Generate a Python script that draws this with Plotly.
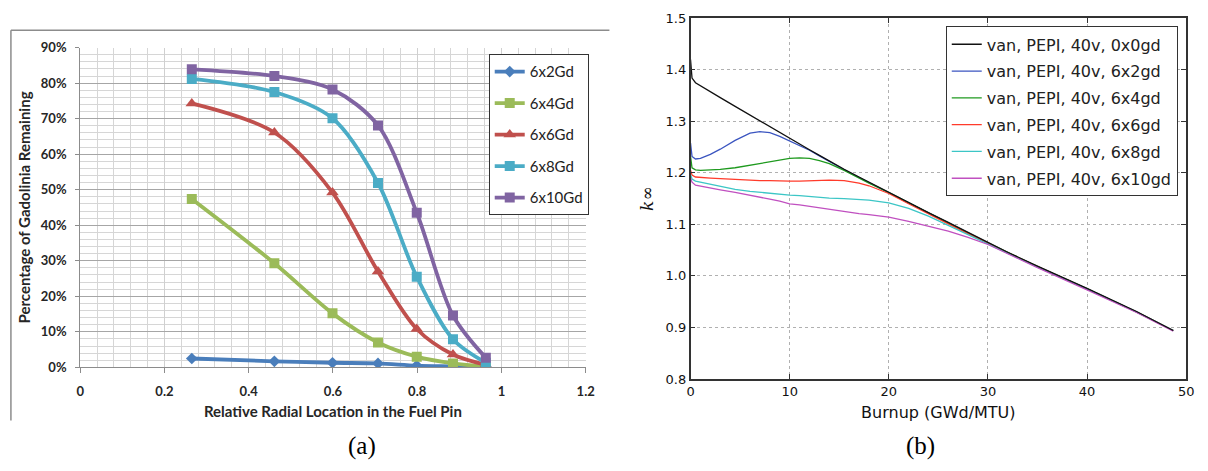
import plotly.graph_objects as go

# ---------------- data: panel (a) ----------------
radial_loc = [0.265, 0.461, 0.599, 0.707, 0.799, 0.885, 0.963]
gd_6x2 = [0.025, 0.017, 0.013, 0.011, 0.005, 0.003, 0.001]
gd_6x4 = [0.474, 0.293, 0.152, 0.070, 0.030, 0.011, 0.002]
gd_6x6 = [0.743, 0.661, 0.492, 0.270, 0.108, 0.036, 0.007]
gd_6x8 = [0.812, 0.775, 0.701, 0.519, 0.255, 0.079, 0.013]
gd_6x10 = [0.839, 0.820, 0.782, 0.681, 0.435, 0.146, 0.027]
a_names = ["6x2Gd", "6x4Gd", "6x6Gd", "6x8Gd", "6x10Gd"]

# ---------------- data: panel (b) ----------------
burnup = [0, 0.15, 0.5, 1, 2, 3, 4.5, 6, 7, 8, 9, 10, 11, 12, 13, 14, 15.5, 17, 18,
          20, 22, 24, 26, 28, 30, 32, 35, 40, 45, 48.7]
k_0x0 = [1.420, 1.384, 1.375, 1.369, 1.357, 1.346, 1.329, 1.312, 1.300, 1.289, 1.278,
         1.267, 1.256, 1.245, 1.234, 1.223, 1.207, 1.192, 1.182, 1.163, 1.143, 1.123,
         1.104, 1.084, 1.065, 1.046, 1.019, 0.976, 0.931, 0.894]
k_6x2 = [1.258, 1.232, 1.227, 1.228, 1.236, 1.246, 1.263, 1.277, 1.280, 1.278, 1.271,
         1.262, 1.254, 1.244, 1.233, 1.222, 1.206, 1.191, 1.181, 1.162, 1.142, 1.122,
         1.103, 1.083, 1.064, 1.045, 1.018, 0.975, 0.930, 0.894]
k_6x4 = [1.232, 1.210, 1.206, 1.205, 1.206, 1.207, 1.210, 1.215, 1.218, 1.222, 1.226,
         1.228, 1.229, 1.228, 1.224, 1.218, 1.205, 1.190, 1.180, 1.162, 1.142, 1.122,
         1.103, 1.083, 1.064, 1.045, 1.018, 0.975, 0.930, 0.894]
k_6x6 = [1.205, 1.196, 1.192, 1.191, 1.190, 1.189, 1.187, 1.186, 1.185, 1.185, 1.184,
         1.184, 1.184, 1.185, 1.186, 1.186, 1.185, 1.180, 1.175, 1.160, 1.140, 1.120,
         1.101, 1.082, 1.063, 1.045, 1.018, 0.975, 0.930, 0.894]
k_6x8 = [1.197, 1.188, 1.184, 1.182, 1.177, 1.173, 1.168, 1.164, 1.162, 1.160, 1.159,
         1.157, 1.156, 1.154, 1.153, 1.151, 1.150, 1.148, 1.147, 1.142, 1.131, 1.116,
         1.098, 1.080, 1.062, 1.044, 1.017, 0.975, 0.930, 0.894]
k_6x10 = [1.190, 1.182, 1.176, 1.174, 1.170, 1.167, 1.162, 1.157, 1.153, 1.149, 1.145,
          1.140, 1.138, 1.135, 1.132, 1.129, 1.125, 1.121, 1.119, 1.114, 1.106, 1.097,
          1.087, 1.075, 1.061, 1.043, 1.016, 0.973, 0.929, 0.893]
b_names = ["van, PEPI, 40v, 0x0gd", "van, PEPI, 40v, 6x2gd", "van, PEPI, 40v, 6x4gd",
           "van, PEPI, 40v, 6x6gd", "van, PEPI, 40v, 6x8gd", "van, PEPI, 40v, 6x10gd"]

W, H = 1208, 471


def fx(x):
    return x / W


def fy(y):
    return 1 - y / H


fig = go.Figure()

# ---- panel (a) traces ----
a_series = [gd_6x2, gd_6x4, gd_6x6, gd_6x8, gd_6x10]
a_colors = ["#4a7ebb", "#9bbb59", "#c0504d", "#4bacc6", "#8064a2"]
a_symbols = ["diamond", "square", "triangle-up", "square", "square"]
a_sizes = [9, 10, 11, 10, 10]
for i, (vals, name) in enumerate(zip(a_series, a_names)):
    fig.add_trace(go.Scatter(
        x=radial_loc, y=vals, name=name, mode="lines+markers",
        line=dict(color=a_colors[i], width=3.8, shape="spline", smoothing=0.9),
        marker=dict(symbol=a_symbols[i], size=a_sizes[i], color=a_colors[i]),
        xaxis="x", yaxis="y", legend="legend", legendgroup="a%d" % i,
    ))

# ---- panel (b) traces ----
b_series = [k_0x0, k_6x2, k_6x4, k_6x6, k_6x8, k_6x10]
b_colors = ["#111111", "#3b55c0", "#1f9a1f", "#ff3b2b", "#3cc6c6", "#c050c0"]
draw_order = [1, 2, 3, 4, 5, 0]
for i in draw_order:
    fig.add_trace(go.Scatter(
        x=burnup, y=b_series[i], name=b_names[i], mode="lines",
        line=dict(color=b_colors[i], width=1.3),
        xaxis="x2", yaxis="y2", legend="legend2", legendgroup="b%d" % i,
        legendrank=i + 1,
    ))

a_tickfont = dict(family="Lato", size=13, color="#262626", weight="bold")
a_titlefont = dict(family="Lato", size=15, color="#262626", weight="bold")
b_tickfont = dict(family="DejaVu Sans", size=13, color="#111111")

fig.update_layout(
    width=W, height=H,
    margin=dict(l=0, r=0, t=0, b=0),
    paper_bgcolor="white", plot_bgcolor="white",
    showlegend=True,
    xaxis=dict(
        domain=[fx(77), fx(588)], range=[0, 1.2], tick0=0, dtick=0.2,
        showgrid=True, gridcolor="#d0d0d0", gridwidth=1,
        minor=dict(dtick=0.04, showgrid=True, gridcolor="#d6d6d6", ticks=""),
        showline=True, linecolor="#8c8c8c", linewidth=1,
        ticks="outside", ticklen=5, tickcolor="#8c8c8c",
        zeroline=False, tickfont=a_tickfont, ticklabelstandoff=7,
        title=dict(text="Relative Radial Location in the Fuel Pin", font=a_titlefont, standoff=8),
        anchor="y",
    ),
    yaxis=dict(
        domain=[fy(372), fy(41)], range=[0, 0.9], tick0=0, dtick=0.1, tickformat=".0%",
        showgrid=True, gridcolor="#a6a6a6", gridwidth=1,
        minor=dict(dtick=0.02, showgrid=True, gridcolor="#d6d6d6", ticks=""),
        showline=True, linecolor="#8c8c8c", linewidth=1,
        ticks="outside", ticklen=4, tickcolor="#8c8c8c",
        zeroline=False, tickfont=a_tickfont, ticklabelstandoff=6,
        title=dict(text="Percentage of Gadolinia Remaining", font=a_titlefont, standoff=6),
        anchor="x",
    ),
    xaxis2=dict(
        domain=[fx(694), fx(1195)], range=[0, 50], tick0=0, dtick=10,
        showgrid=True, gridcolor="#b0b0b0", griddash="dot", gridwidth=1,
        showline=True, mirror="ticks", linecolor="#333333", linewidth=1.5,
        ticks="inside", ticklen=5, tickcolor="#333333",
        zeroline=False, tickfont=b_tickfont,
        title=dict(text="Burnup (GWd/MTU)", font=dict(family="DejaVu Sans", size=16, color="#111"), standoff=8),
        anchor="y2",
    ),
    yaxis2=dict(
        domain=[fy(384), fy(10.7)], range=[0.8, 1.5], tick0=0.8, dtick=0.1, tickformat=".1f",
        showgrid=True, gridcolor="#b0b0b0", griddash="dot", gridwidth=1,
        showline=True, mirror="ticks", linecolor="#333333", linewidth=1.5,
        ticks="inside", ticklen=5, tickcolor="#333333",
        zeroline=False, tickfont=b_tickfont,
        title=dict(text="<i>k</i>∞", font=dict(family="DejaVu Serif", size=17, color="#111"), standoff=8),
        anchor="x2",
    ),
    legend=dict(
        x=fx(490), y=fy(48), xanchor="left", yanchor="top",
        bgcolor="white", bordercolor="#333333", borderwidth=1,
        font=dict(family="Lato", size=15, color="#222"),
        traceorder="grouped", tracegroupgap=9, itemwidth=30,
    ),
    legend2=dict(
        x=fx(952), y=fy(19), xanchor="left", yanchor="top",
        bgcolor="white", bordercolor="#333333", borderwidth=1,
        font=dict(family="DejaVu Sans", size=16, color="#222"),
        traceorder="grouped", tracegroupgap=3, itemwidth=30,
    ),
    shapes=[
        dict(type="line", xref="paper", yref="paper", x0=fx(7), x1=fx(612), y0=fy(23), y1=fy(23),
             line=dict(color="#8c8c8c", width=1.5)),
        dict(type="line", xref="paper", yref="paper", x0=fx(7), x1=fx(7), y0=fy(23), y1=fy(427),
             line=dict(color="#8c8c8c", width=1.5)),
    ],
    annotations=[
        dict(text="(a)", x=fx(362), y=fy(453), xref="paper", yref="paper", showarrow=False,
             xanchor="center", yanchor="middle",
             font=dict(family="Liberation Serif", size=25, color="black")),
        dict(text="(b)", x=fx(926), y=fy(453), xref="paper", yref="paper", showarrow=False,
             xanchor="center", yanchor="middle",
             font=dict(family="Liberation Serif", size=25, color="black")),
    ],
)

fig.write_html("out.html")
